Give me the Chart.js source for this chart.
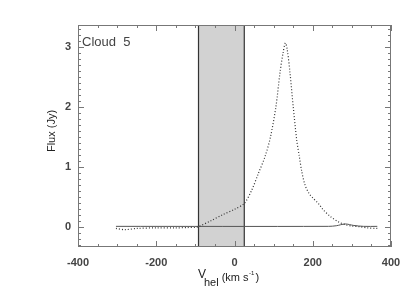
<!DOCTYPE html>
<html>
<head>
<meta charset="utf-8">
<script src="https://cdn.jsdelivr.net/npm/chart.js@4"></script>
<style>
  html, body { margin: 0; padding: 0; background: #fff; }
  #wrap { width: 415px; height: 297px; }
</style>
</head>
<body>
<div id="wrap"><canvas id="chart"></canvas></div>
<script>
// dotted spectrum (flux vs heliocentric velocity)
const velocity = [-303, -280, -250, -200, -150, -120, -100, -92, -60, -30, 0, 25, 44, 61, 78, 92, 106, 116, 124, 130, 135, 142, 150, 159, 165, 172, 180, 190, 200, 214, 227, 245, 266, 285, 300, 320, 340, 365];
const flux     = [-0.03, -0.05, -0.03, -0.02, -0.02, -0.015, -0.01, 0.0, 0.1, 0.2, 0.29, 0.39, 0.61, 0.89, 1.17, 1.5, 2.01, 2.56, 2.9, 3.07, 2.95, 2.56, 2.01, 1.45, 1.2, 0.92, 0.7, 0.56, 0.48, 0.39, 0.28, 0.17, 0.08, 0.03, 0.01, 0.0, -0.02, -0.03];

// solid baseline model
const baseVelocity = [-303, 240, 260, 283, 305, 330, 365];
const baseFlux     = [0.005, 0.005, 0.015, 0.045, 0.02, 0.005, 0.005];

// shaded velocity range
const bandEdges = [-92, 25];

const xTicks = [-400, -200, 0, 200, 400];
const yTicks = [0, 1, 2, 3];
const xRange = [-400, 400];
const yRange = [-0.34, 3.37];

function pts(xs, ys) {
    return xs.map((x, i) => ({ x: x, y: ys[i] }));
}

const FONT = "'Liberation Sans', Arial, sans-serif";

const frameAndTicks = {
    id: "frameAndTicks",
    afterDraw(chart) {
        const ctx = chart.ctx;
        const a = chart.chartArea;
        const xs = chart.scales.x, ys = chart.scales.y;
        ctx.save();
        ctx.strokeStyle = "#777";
        ctx.lineWidth = 1;
        ctx.strokeRect(a.left + 0.5, a.top + 0.5, a.right - a.left - 1, a.bottom - a.top - 1);
        ctx.beginPath();
        for (let v = xRange[0]; v <= xRange[1]; v += 50) {
            const p = Math.round(xs.getPixelForValue(v)) + 0.5;
            const len = v % 200 === 0 ? 6 : 3;
            ctx.moveTo(p, a.bottom); ctx.lineTo(p, a.bottom - len);
            ctx.moveTo(p, a.top); ctx.lineTo(p, a.top + len);
        }
        for (let i = -3; i <= 33; i++) {
            const v = i / 10;
            const p = Math.round(ys.getPixelForValue(v)) + 0.5;
            const len = i % 10 === 0 ? 6 : 3;
            ctx.moveTo(a.left, p); ctx.lineTo(a.left + len, p);
            ctx.moveTo(a.right, p); ctx.lineTo(a.right - len, p);
        }
        ctx.stroke();

        // label inside the panel
        ctx.fillStyle = "#444";
        ctx.font = "13px " + FONT;
        ctx.textAlign = "left";
        ctx.textBaseline = "middle";
        ctx.fillText("Cloud  5", a.left + 4, a.top + 17);

        // y axis title
        ctx.fillStyle = "#222";
        ctx.font = "11px " + FONT;
        ctx.save();
        ctx.translate(52, (a.top + a.bottom) / 2 - 5);
        ctx.rotate(-Math.PI / 2);
        ctx.textAlign = "center";
        ctx.fillText("Flux (Jy)", 0, 0);
        ctx.restore();

        // x axis title with sub/superscript
        ctx.textAlign = "left";
        ctx.textBaseline = "alphabetic";
        let x0 = 198;
        ctx.font = "12px " + FONT;
        ctx.fillText("V", x0, 278);
        x0 += ctx.measureText("V").width - 2;
        ctx.font = "11px " + FONT;
        ctx.fillText("hel", x0, 286);
        x0 += ctx.measureText("hel").width + 3;
        ctx.font = "11px " + FONT;
        ctx.fillText("(km s", x0, 281);
        x0 += ctx.measureText("(km s").width + 0.5;
        ctx.font = "6px " + FONT;
        ctx.fillText("-1", x0, 275);
        x0 += ctx.measureText("-1").width + 1;
        ctx.font = "11px " + FONT;
        ctx.fillText(")", x0, 281);
        ctx.restore();
    }
};

new Chart("chart", {
    type: "line",
    data: {
        datasets: [
            {
                data: pts(bandEdges, [yRange[1], yRange[1]]),
                borderWidth: 0,
                backgroundColor: "#d2d2d2",
                fill: "start",
                pointRadius: 0,
                order: 5
            },
            {
                data: pts([bandEdges[0], bandEdges[0]], yRange),
                borderColor: "#333",
                borderWidth: 1.2,
                pointRadius: 0,
                fill: false,
                order: 4
            },
            {
                data: pts([bandEdges[1], bandEdges[1]], yRange),
                borderColor: "#333",
                borderWidth: 1.2,
                pointRadius: 0,
                fill: false,
                order: 4
            },
            {
                data: pts(baseVelocity, baseFlux),
                borderColor: "#555",
                borderWidth: 1,
                pointRadius: 0,
                tension: 0.3,
                fill: false,
                order: 2
            },
            {
                data: pts(velocity, flux),
                borderColor: "#333",
                borderWidth: 1.2,
                borderDash: [1, 2],
                pointRadius: 0,
                tension: 0.3,
                fill: false,
                order: 1
            }
        ]
    },
    options: {
        responsive: true,
        maintainAspectRatio: false,
        animation: false,
        layout: { padding: { top: 25, right: 24, left: 0, bottom: 0 } },
        plugins: {
            legend: { display: false },
            tooltip: { enabled: false }
        },
        scales: {
            x: {
                type: "linear",
                min: xRange[0],
                max: xRange[1],
                afterBuildTicks: s => { s.ticks = xTicks.map(v => ({ value: v })); },
                afterFit: s => { s.height = 50; },
                grid: { display: false, drawTicks: false },
                border: { display: false },
                ticks: {
                    padding: 9,
                    maxRotation: 0,
                    color: "#444",
                    font: { family: FONT, size: 11, weight: "bold" }
                }
            },
            y: {
                type: "linear",
                min: yRange[0],
                max: yRange[1],
                afterBuildTicks: s => { s.ticks = yTicks.map(v => ({ value: v })); },
                afterFit: s => { s.width = 78; },
                grid: { display: false, drawTicks: false },
                border: { display: false },
                ticks: {
                    padding: 7,
                    color: "#444",
                    font: { family: FONT, size: 11, weight: "bold" }
                }
            }
        }
    },
    plugins: [frameAndTicks]
});
</script>
</body>
</html>
